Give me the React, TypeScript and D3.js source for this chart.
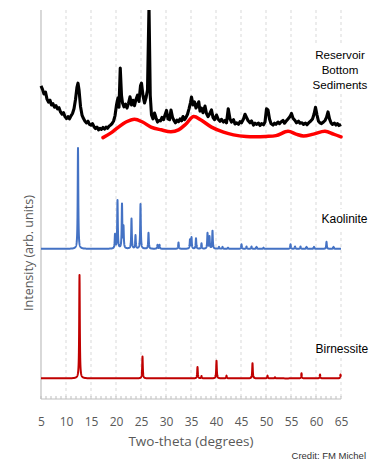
import { useEffect, useRef } from 'react'
import * as d3 from 'd3'

const W = 369
const H = 462

// two-theta tick labels
const xTicks = [5, 10, 15, 20, 25, 30, 35, 40, 45, 50, 55, 60, 65]

// Reservoir bottom sediments, measured pattern [two-theta, intensity]
const sediments: [number, number][] = [
  [5.0, 80.5], [5.3, 79.6], [5.6, 78.4], [5.9, 78.9], [6.2, 77.1], [6.5, 76.3], [6.8, 76.8],
  [7.1, 75.6], [7.4, 75.9], [7.7, 75.0], [8.0, 75.4], [8.3, 74.6], [8.6, 74.9], [8.9, 73.8],
  [9.2, 73.2], [9.5, 73.6], [9.8, 72.6], [10.1, 72.1], [10.4, 72.6], [10.7, 72.0], [11.0, 72.8],
  [11.3, 73.4], [11.6, 74.6], [11.9, 77.0], [12.2, 80.2], [12.4, 81.2], [12.6, 79.5], [12.9, 75.2],
  [13.2, 73.0], [13.5, 72.1], [13.8, 71.4], [14.1, 71.0], [14.4, 71.4], [14.7, 70.6], [15.0, 70.4],
  [15.3, 70.8], [15.6, 70.0], [15.9, 69.5], [16.2, 69.9], [16.5, 69.2], [16.8, 69.6], [17.1, 69.3],
  [17.4, 69.8], [17.7, 69.4], [18.0, 69.9], [18.3, 69.6], [18.6, 70.1], [18.9, 70.4], [19.2, 70.8],
  [19.5, 71.4], [19.8, 72.8], [20.1, 75.6], [20.4, 77.4], [20.6, 75.0], [20.85, 85.1], [21.1, 78.0],
  [21.3, 76.1], [21.6, 75.1], [21.9, 75.8], [22.2, 74.8], [22.5, 76.0], [22.8, 77.7], [23.1, 75.6],
  [23.4, 76.8], [23.7, 75.4], [24.0, 77.0], [24.3, 78.1], [24.6, 76.5], [24.9, 80.5], [25.1, 81.2],
  [25.4, 78.0], [25.7, 76.1], [26.0, 77.4], [26.3, 79.4], [26.6, 101], [26.85, 78.0], [27.1, 73.0],
  [27.4, 72.0], [27.7, 73.5], [28.0, 72.3], [28.3, 71.2], [28.6, 71.6], [28.9, 71.5], [29.2, 72.4],
  [29.5, 71.8], [29.8, 73.0], [30.1, 74.2], [30.4, 72.0], [30.7, 71.8], [31.0, 74.3], [31.3, 72.4],
  [31.6, 71.6], [31.9, 71.0], [32.2, 71.7], [32.5, 71.3], [32.8, 72.0], [33.1, 71.5], [33.4, 72.6],
  [33.7, 71.8], [34.0, 72.4], [34.3, 73.2], [34.6, 74.6], [34.9, 76.2], [35.1, 77.6], [35.4, 75.6],
  [35.7, 76.4], [36.0, 74.8], [36.3, 75.6], [36.55, 76.4], [36.8, 74.0], [37.1, 74.8], [37.4, 73.6],
  [37.8, 75.3], [38.1, 73.4], [38.4, 72.6], [38.7, 73.2], [39.1, 74.3], [39.4, 72.4], [39.7, 71.8],
  [40.1, 73.0], [40.4, 72.0], [40.8, 71.4], [41.1, 71.9], [41.5, 71.2], [41.8, 71.6], [42.1, 71.0],
  [42.45, 74.6], [42.8, 72.0], [43.1, 71.2], [43.5, 71.8], [43.8, 70.7], [44.1, 71.0], [44.5, 70.6],
  [44.8, 71.3], [45.1, 71.0], [45.5, 72.0], [45.8, 73.2], [46.1, 72.4], [46.4, 71.6], [46.8, 71.0],
  [47.1, 71.5], [47.5, 70.4], [47.8, 70.9], [48.1, 70.6], [48.5, 70.9], [48.8, 70.3], [49.1, 70.8],
  [49.5, 70.5], [49.8, 71.2], [50.1, 74.6], [50.4, 74.3], [50.7, 72.0], [51.0, 70.8], [51.4, 70.4],
  [51.7, 70.9], [52.0, 70.6], [52.4, 71.2], [52.7, 70.8], [53.0, 71.2], [53.4, 71.6], [53.7, 70.9],
  [54.0, 71.4], [54.4, 72.0], [54.8, 72.6], [55.1, 73.4], [55.4, 72.2], [55.8, 71.6], [56.1, 71.0],
  [56.5, 71.4], [56.8, 70.9], [57.2, 71.0], [57.5, 70.6], [57.9, 70.9], [58.2, 70.5], [58.6, 71.1],
  [58.9, 71.4], [59.3, 72.0], [59.6, 73.2], [59.9, 75.0], [60.2, 73.0], [60.5, 71.4], [60.8, 71.0],
  [61.1, 70.8], [61.5, 71.2], [61.8, 71.6], [62.1, 72.4], [62.4, 73.8], [62.7, 72.0], [63.0, 71.0],
  [63.3, 70.6], [63.7, 70.9], [64.0, 70.4], [64.3, 70.8], [64.6, 70.3], [65.0, 70.6],
]

// amorphous background under the sediment pattern
const amorphous: [number, number][] = [
  [17.4, 67.2], [19.0, 68.4], [20.5, 69.9], [22.0, 71.2], [23.7, 71.9], [25.3, 71.2], [27.0, 69.9],
  [29.0, 69.2], [31.0, 68.7], [32.5, 69.2], [34.0, 70.7], [35.5, 72.6], [37.0, 71.7], [39.1, 69.9],
  [41.5, 68.6], [43.5, 67.9], [46.0, 67.5], [50.0, 67.5], [52.0, 67.7], [54.4, 68.8], [56.0, 68.1],
  [57.5, 67.6], [59.5, 68.1], [61.8, 68.8], [63.5, 68.1], [65.0, 67.4],
]

// reference patterns: baseline and peak tops [two-theta, intensity]
const kaoliniteBase = 38.6
const kaolinitePeaks: [number, number][] = [
  [12.4, 64.5], [19.8, 42.2], [20.3, 51.0], [21.2, 49.9], [21.5, 44.0], [23.1, 46.3], [23.9, 42.0],
  [24.9, 50.1], [26.5, 42.7], [28.3, 39.6], [28.7, 39.6], [32.5, 40.2], [34.8, 40.9], [35.1, 41.5],
  [36.0, 41.3], [37.1, 40.0], [38.3, 42.6], [38.7, 41.7], [39.3, 43.2], [40.6, 39.1], [41.3, 39.1],
  [42.4, 38.9], [45.1, 39.8], [46.1, 39.2], [47.1, 39.2], [48.1, 39.1], [49.5, 38.9], [54.9, 39.8],
  [55.8, 39.2], [56.9, 39.2], [58.1, 39.1], [59.6, 39.1], [62.1, 40.4], [63.5, 39.1],
]

const birnessiteBase = 5.3
const birnessitePeaks: [number, number][] = [
  [12.7, 31.9], [25.3, 10.9], [36.3, 8.2], [37.1, 5.9], [40.1, 9.8], [42.1, 6.0], [47.3, 9.2],
  [50.3, 6.0], [51.8, 5.6], [57.1, 6.6], [60.8, 6.3], [64.9, 6.3],
]

export default function App() {
  const svgRef = useRef<SVGSVGElement>(null)

  useEffect(() => {
    const svg = d3.select(svgRef.current)
    svg.selectAll('*').remove()

    const left = 41, right = 341, top = 10, bottom = 399
    const x = d3.scaleLinear().domain([5, 65]).range([left, right])
    const y = d3.scaleLinear().domain([0, 100]).range([bottom, top])

    svg.append('rect').attr('width', W).attr('height', H).attr('fill', '#fff')

    svg.append('defs').append('clipPath').attr('id', 'plot')
      .append('rect').attr('x', left - 2).attr('y', top).attr('width', right - left + 4).attr('height', bottom - top)

    // dashed vertical gridlines
    svg.append('g').selectAll('line').data(xTicks.slice(1)).join('line')
      .attr('x1', d => x(d)).attr('x2', d => x(d))
      .attr('y1', top).attr('y2', bottom)
      .attr('stroke', '#d9d9d9').attr('stroke-dasharray', '3,3')

    // left and bottom axis lines
    svg.append('line').attr('x1', left).attr('x2', left).attr('y1', top).attr('y2', bottom)
      .attr('stroke', '#bfbfbf').attr('stroke-width', 1.2)
    svg.append('line').attr('x1', left).attr('x2', right).attr('y1', bottom).attr('y2', bottom)
      .attr('stroke', '#bfbfbf').attr('stroke-width', 1.2)

    // minor ticks
    svg.append('g').selectAll('line').data(d3.range(5, 66, 1)).join('line')
      .attr('x1', d => x(d)).attr('x2', d => x(d))
      .attr('y1', bottom).attr('y2', bottom - 3)
      .attr('stroke', '#bfbfbf')

    // x tick labels
    const axis = svg.append('g').attr('transform', `translate(0,${bottom})`)
      .call(d3.axisBottom(x).tickValues(xTicks).tickSize(0).tickPadding(18).tickFormat(d3.format('d')))
    axis.select('.domain').remove()
    axis.selectAll('text').attr('font-family', '"Open Sans", sans-serif').attr('font-size', 12).attr('fill', '#595959')

    const profile = (base: number, peaks: [number, number][], hw: number): [number, number][] =>
      d3.range(5, 65.001, 0.02).map(t => [
        t,
        base + d3.sum(peaks, ([p, h]) => (h - base) * hw * hw / ((t - p) * (t - p) + hw * hw)),
      ])

    const line = d3.line<[number, number]>().x(d => x(d[0])).y(d => y(d[1]))
    const plot = svg.append('g').attr('clip-path', 'url(#plot)')

    plot.append('path').attr('d', line(profile(birnessiteBase, birnessitePeaks, 0.07)))
      .attr('fill', 'none').attr('stroke', '#c00000').attr('stroke-width', 2).attr('stroke-linejoin', 'round')
    plot.append('path').attr('d', line(profile(kaoliniteBase, kaolinitePeaks, 0.07)))
      .attr('fill', 'none').attr('stroke', '#4472c4').attr('stroke-width', 2).attr('stroke-linejoin', 'round')
    plot.append('path').attr('d', line(sediments))
      .attr('fill', 'none').attr('stroke', '#000').attr('stroke-width', 3.1).attr('stroke-linejoin', 'round')
    plot.append('path').attr('d', line.curve(d3.curveCatmullRom)(amorphous))
      .attr('fill', 'none').attr('stroke', '#ff0000').attr('stroke-width', 3.5).attr('stroke-linecap', 'round')

    // series labels on white boxes
    const labelFont = '"Liberation Sans", Arial, sans-serif'
    svg.append('rect').attr('x', 311).attr('y', 44).attr('width', 60).attr('height', 49).attr('fill', '#fff')
    const sed = svg.append('text').attr('font-family', labelFont).attr('font-size', 11.6).attr('text-anchor', 'middle')
    ;['Reservoir', 'Bottom', 'Sediments'].forEach((t, i) => {
      sed.append('tspan').attr('x', 340).attr('y', 59 + i * 14.8).text(t)
    })
    svg.append('rect').attr('x', 318).attr('y', 209).attr('width', 55).attr('height', 20).attr('fill', '#fff')
    svg.append('text').attr('x', 321.5).attr('y', 223).attr('font-family', labelFont).attr('font-size', 12).text('Kaolinite')
    svg.append('rect').attr('x', 313).attr('y', 338).attr('width', 60).attr('height', 19).attr('fill', '#fff')
    svg.append('text').attr('x', 315.5).attr('y', 353).attr('font-family', labelFont).attr('font-size', 12).text('Birnessite')

    // axis titles
    svg.append('text').attr('x', (left + right) / 2).attr('y', 446).attr('text-anchor', 'middle')
      .attr('font-family', '"Open Sans", sans-serif').attr('font-size', 13.5).attr('fill', '#595959')
      .text('Two-theta (degrees)')
    svg.append('text').attr('transform', 'translate(33,253) rotate(-90)').attr('text-anchor', 'middle')
      .attr('font-family', '"Open Sans", sans-serif').attr('font-size', 12.5).attr('fill', '#595959')
      .text('Intensity (arb. units)')

    svg.append('text').attr('x', 366).attr('y', 459).attr('text-anchor', 'end').attr('font-family', labelFont)
      .attr('font-size', 9.5).attr('fill', '#333').text('Credit: FM Michel')
  }, [])

  return (
    <div style={{ position: 'absolute', left: 0, top: 0 }}>
      <svg ref={svgRef} width={W} height={H} style={{ display: 'block' }}></svg>
    </div>
  )
}
